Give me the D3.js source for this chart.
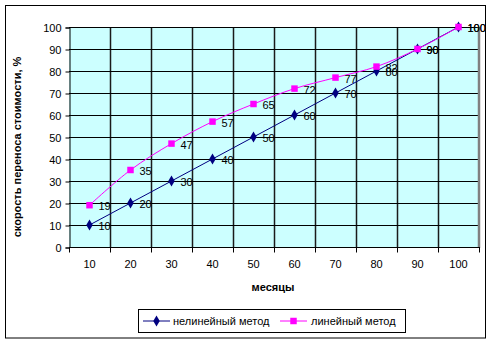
<!DOCTYPE html>
<html>
<head>
<meta charset="utf-8">
<script src="https://cdn.jsdelivr.net/npm/d3@7"></script>
<style>
  html, body { margin: 0; padding: 0; background: #fff; }
  svg { display: block; font-family: "Liberation Sans", Arial, sans-serif; }
</style>
</head>
<body>
<svg id="chart" width="495" height="343"></svg>
<script>
// Chart data
const months = [10, 20, 30, 40, 50, 60, 70, 80, 90, 100];
const nonlinearMethod = [10, 20, 30, 40, 50, 60, 70, 80, 90, 100];
const linearMethod = [19, 35, 47, 57, 65, 72, 77, 82, 90, 100];
const yTicks = [0, 10, 20, 30, 40, 50, 60, 70, 80, 90, 100];
const seriesNames = ["нелинейный метод", "линейный метод"];
const xTitle = "месяцы";
const yTitle = "скорость переноса стоимости, %";

const svg = d3.select("#chart");

// Outer chart frame
svg.append("rect")
  .attr("x", 5.5).attr("y", 5.5)
  .attr("width", 480).attr("height", 332.5)
  .attr("fill", "#fff").attr("stroke", "#000").attr("stroke-width", 1);

const plot = { left: 69, top: 27, right: 479, bottom: 247 };

const x = d3.scaleBand()
  .domain(months)
  .range([plot.left, plot.right])
  .padding(0);

const y = d3.scaleLinear()
  .domain([0, 100])
  .range([plot.bottom, plot.top]);

const cx = d => x(d) + x.bandwidth() / 2;

// Plot area background
svg.append("rect")
  .attr("x", plot.left).attr("y", plot.top)
  .attr("width", plot.right - plot.left).attr("height", plot.bottom - plot.top)
  .attr("fill", "#ccffff");

// Vertical gridlines at category boundaries
const boundaries = months.slice(1).map(m => x(m));
svg.append("g")
  .selectAll("line")
  .data(boundaries)
  .join("line")
  .attr("x1", d => Math.round(d) + 0.5).attr("x2", d => Math.round(d) + 0.5)
  .attr("y1", plot.top).attr("y2", plot.bottom)
  .attr("stroke", "#1a1a1a").attr("stroke-width", 1.5);

// Horizontal gridlines
svg.append("g")
  .selectAll("line")
  .data(yTicks.filter(t => t > 0))
  .join("line")
  .attr("x1", plot.left).attr("x2", plot.right)
  .attr("y1", d => Math.round(y(d)) + 0.5).attr("y2", d => Math.round(y(d)) + 0.5)
  .attr("stroke", "#000").attr("stroke-width", 1);

// Right border of plot area
svg.append("line")
  .attr("x1", plot.right).attr("x2", plot.right)
  .attr("y1", plot.top).attr("y2", plot.bottom + 1)
  .attr("stroke", "#808080").attr("stroke-width", 2.5);

// Y axis
const yAxis = d3.axisLeft(y).tickValues(yTicks).tickSize(4).tickPadding(4);
const gy = svg.append("g")
  .attr("transform", `translate(${plot.left + 0.5},0.5)`)
  .call(yAxis);
gy.select(".domain").attr("stroke", "#000");
gy.selectAll(".tick line").attr("stroke", "#000");
gy.selectAll("text").attr("font-size", 11).attr("fill", "#000")
  .attr("font-family", "Liberation Sans, Arial, sans-serif");

// X axis: tick marks at category boundaries, labels at category centres
const gx = svg.append("g")
  .attr("transform", `translate(0,${plot.bottom + 0.5})`);
gx.append("line")
  .attr("x1", plot.left).attr("x2", plot.right + 1)
  .attr("y1", 0).attr("y2", 0)
  .attr("stroke", "#000");
gx.selectAll("line.tickmark")
  .data(months.map(m => x(m)).concat([plot.right]))
  .join("line")
  .attr("class", "tickmark")
  .attr("x1", d => Math.round(d) + 0.5).attr("x2", d => Math.round(d) + 0.5)
  .attr("y1", 0).attr("y2", 5)
  .attr("stroke", "#000");
gx.selectAll("text")
  .data(months)
  .join("text")
  .attr("x", d => cx(d))
  .attr("y", 20)
  .attr("text-anchor", "middle")
  .attr("font-size", 11)
  .text(d => d);

// Axis titles
svg.append("text")
  .attr("x", (plot.left + plot.right) / 2 - 1)
  .attr("y", 291)
  .attr("text-anchor", "middle")
  .attr("font-size", 11).attr("font-weight", "bold")
  .text(xTitle);

svg.append("text")
  .attr("transform", `translate(21,${147}) rotate(-90)`)
  .attr("text-anchor", "middle")
  .attr("font-size", 11).attr("font-weight", "bold")
  .text(yTitle);

// Series
const series = [
  { name: seriesNames[0], values: nonlinearMethod, color: "#000080", shape: d3.symbolDiamond, size: 36, curve: d3.curveLinear },
  { name: seriesNames[1], values: linearMethod, color: "#ff00ff", shape: d3.symbolSquare, size: 42, curve: d3.curveCatmullRom.alpha(0.5) }
];

series.forEach(s => {
  const pts = months.map((m, i) => [cx(m), y(s.values[i])]);
  svg.append("path")
    .attr("d", d3.line().curve(s.curve)(pts))
    .attr("fill", "none")
    .attr("stroke", s.color)
    .attr("stroke-width", 1);
});

series.forEach(s => {
  const g = svg.append("g");
  g.selectAll("path")
    .data(months)
    .join("path")
    .attr("transform", (m, i) => `translate(${cx(m)},${y(s.values[i])})`)
    .attr("d", d3.symbol().type(s.shape).size(s.size))
    .attr("fill", s.color);
  g.selectAll("text")
    .data(months)
    .join("text")
    .attr("x", m => cx(m) + 9)
    .attr("y", (m, i) => y(s.values[i]) + 5)
    .attr("font-size", 11)
    .attr("fill", "#000")
    .text((m, i) => s.values[i]);
});

// Legend
const legend = svg.append("g");
legend.append("rect")
  .attr("x", 138.5).attr("y", 309.5)
  .attr("width", 267).attr("height", 23)
  .attr("fill", "#fff").attr("stroke", "#000");

const legendItems = [
  { s: series[0], x0: 143, tx: 173 },
  { s: series[1], x0: 280, tx: 311 }
];
legendItems.forEach(it => {
  const ly = 321;
  legend.append("line")
    .attr("x1", it.x0).attr("x2", it.x0 + 27)
    .attr("y1", ly).attr("y2", ly)
    .attr("stroke", it.s.color).attr("stroke-width", 1);
  legend.append("path")
    .attr("transform", `translate(${it.x0 + 13.5},${ly})`)
    .attr("d", d3.symbol().type(it.s.shape).size(it.s.size))
    .attr("fill", it.s.color);
  legend.append("text")
    .attr("x", it.tx).attr("y", ly + 4)
    .attr("font-size", 11)
    .text(it.s.name);
});
</script>
</body>
</html>
